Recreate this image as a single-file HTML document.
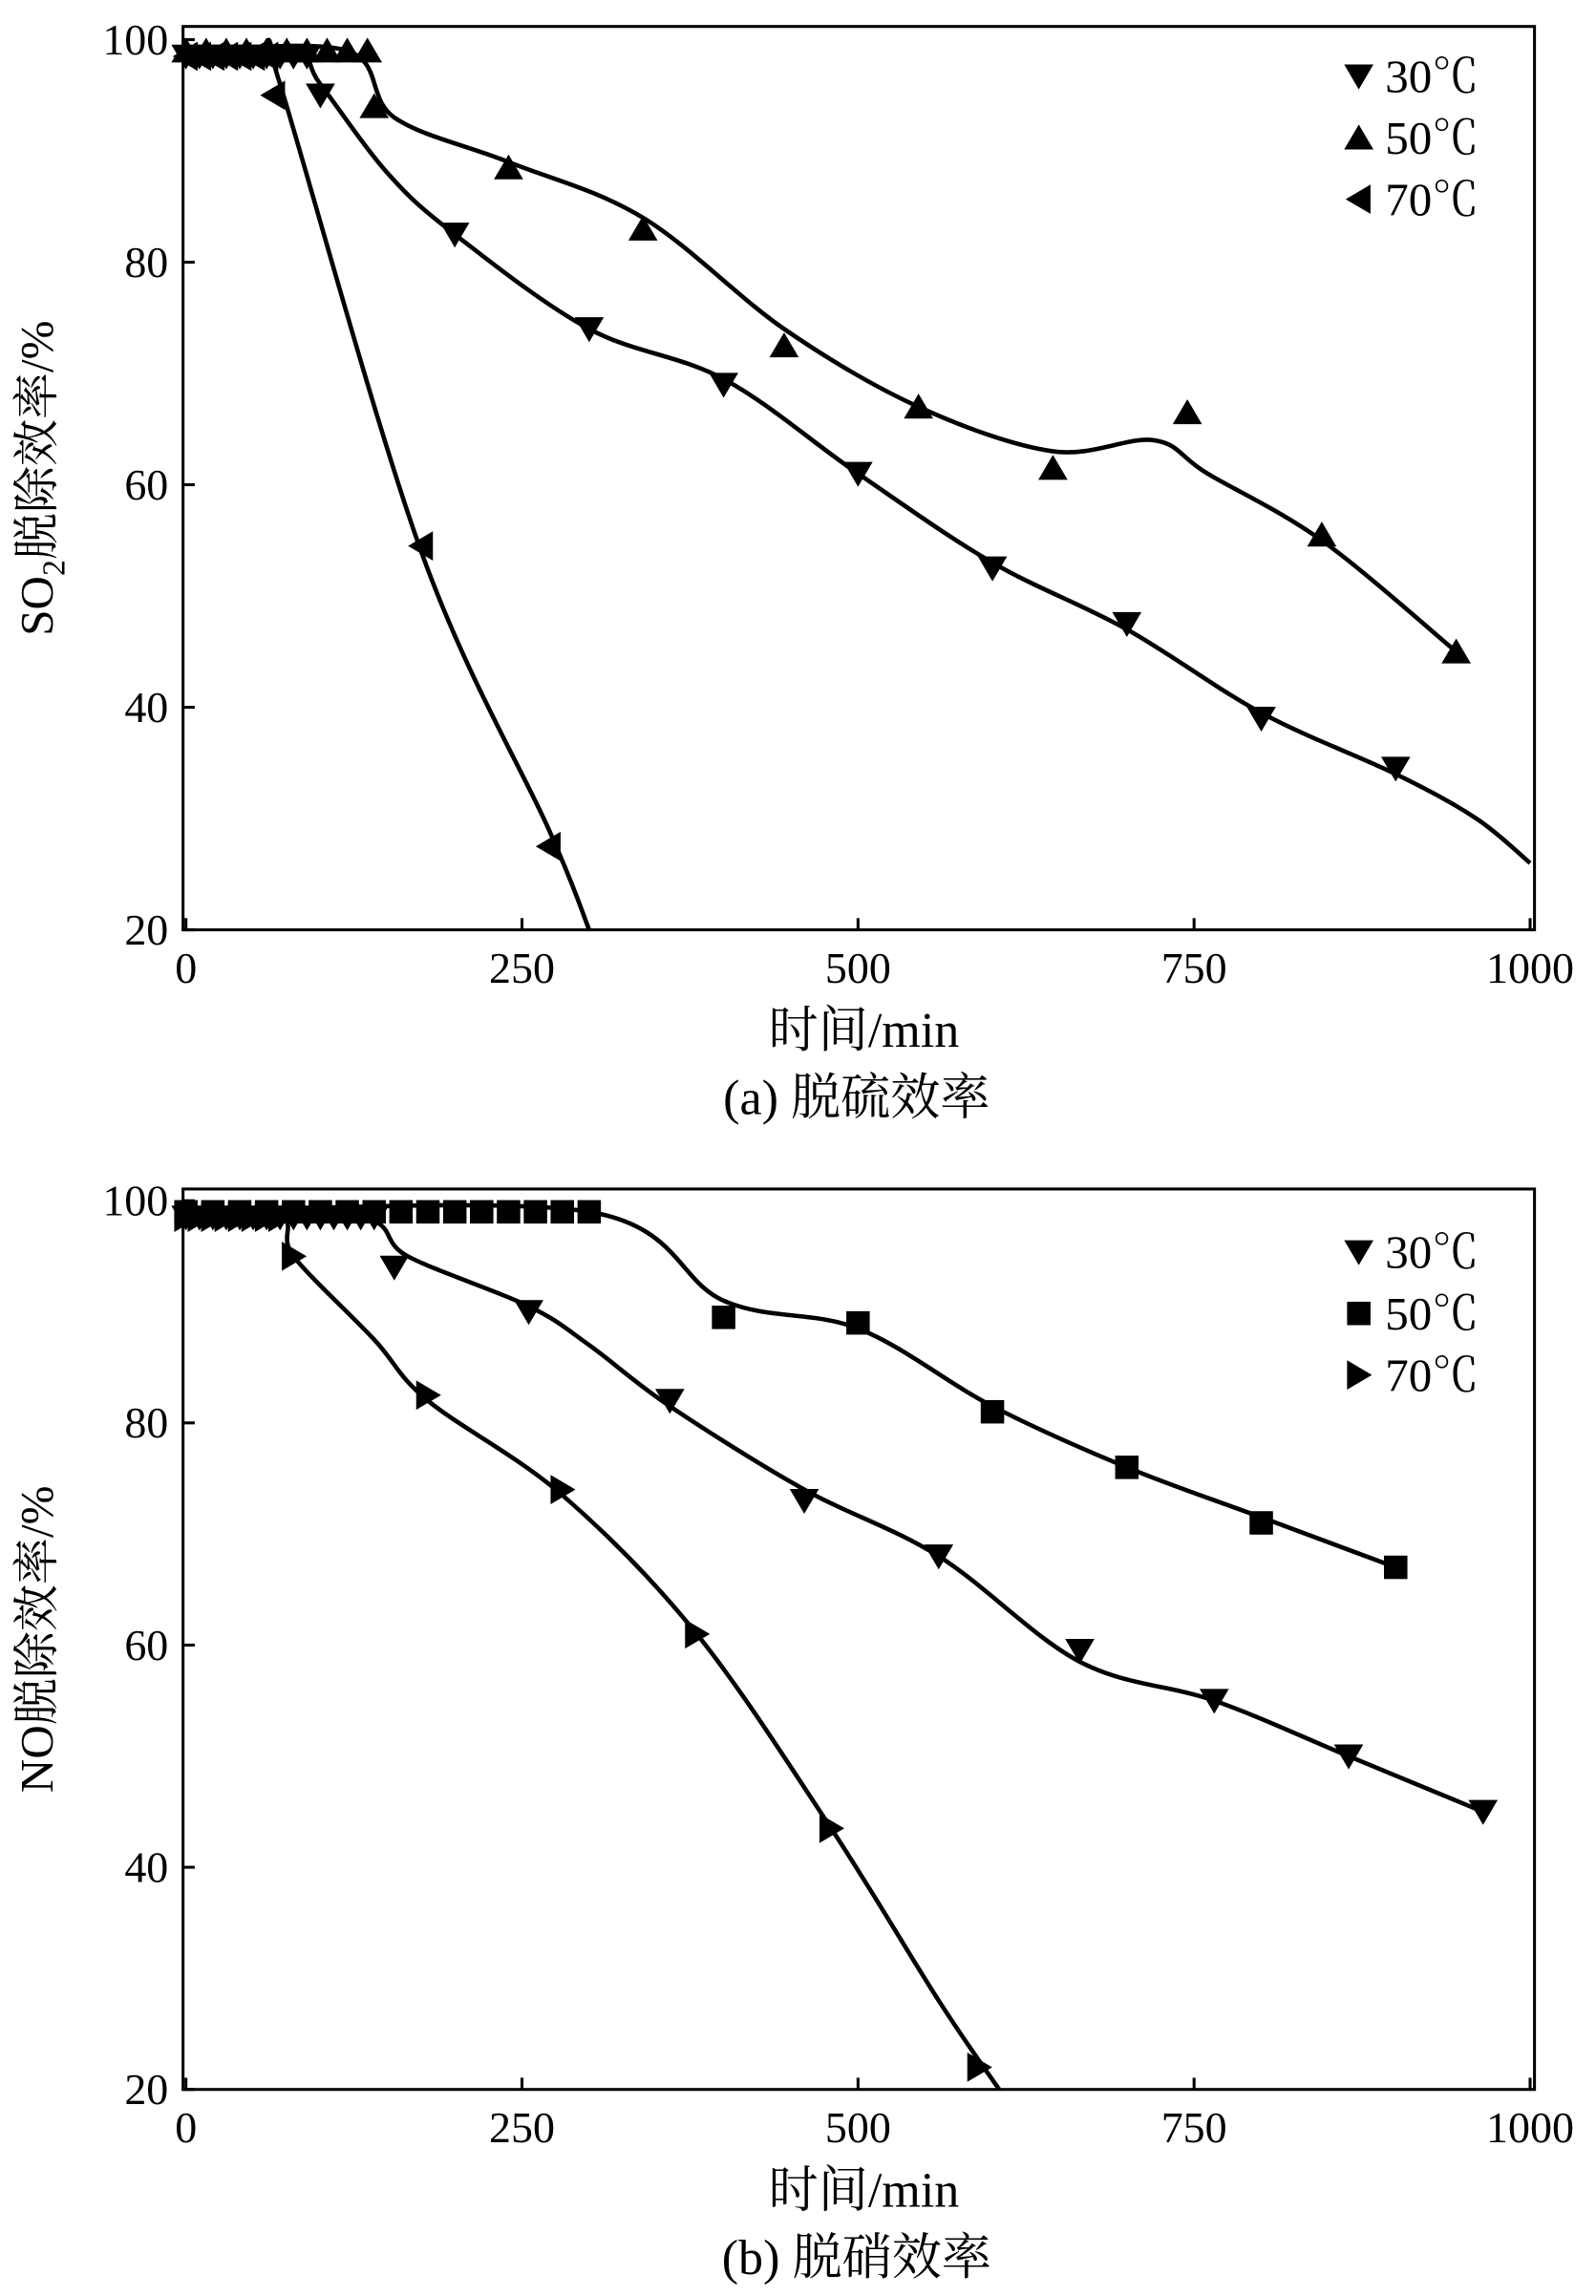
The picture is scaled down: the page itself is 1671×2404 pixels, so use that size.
<!DOCTYPE html>
<html><head><meta charset="utf-8"><style>
html,body{margin:0;padding:0;background:#fff}
svg{display:block}
text{font-family:"Liberation Serif","Noto Serif CJK SC",serif;fill:#000}
</style></head><body>
<svg id="chart" width="1671" height="2404" viewBox="0 0 1090 1568" xmlns="http://www.w3.org/2000/svg"></svg>
<script>
// ---- Panel (a) data ----
const xTicks = [0, 250, 500, 750, 1000];
const yTicks = [20, 40, 60, 80, 100];
const a30x = [0,10,20,30,40,50,60,70,80,90,100,200,300,400,500,600,700,800,900];
const a30y = [98.5,98.5,98.5,98.5,98.5,98.5,98.5,98.5,98.5,98.5,95,82.5,74,69,61,52.5,47.5,39,34.5];
const a50x = [0,15,30,45,60,75,90,105,120,135,140,240,340,445,545,645,745,845,945];
const a50y = [99,99,99,99,99,99,99,99,99,99,94,88.5,83,72.5,67,61.5,66.5,55.5,45];
const a70x = [0,10,20,30,40,50,60,65,175,270];
const a70y = [98.5,98.5,98.5,98.5,98.5,98.5,98.5,95,54.5,27.5];
const a30curveX = [0,80,100,150,200,300,400,500,600,700,800,900,960,1000];
const a30curveY = [99,99,96,88,82.5,74,69.5,61,53,47,39.5,34,30,26];
const a50curveX = [0,120,155,240,340,445,545,645,720,760,845,945];
const a50curveY = [99,99,93,89,84,74,67,63,64,61,55,45];
const a70curveX = [0,60,70,175,270,300];
const a70curveY = [98.5,98.5,96,54,29,20];
// ---- Panel (b) data ----
const b30x = [0,10,20,30,40,50,60,70,80,90,100,110,120,130,140,155,255,360,460,560,665,765,865,965];
const b30y = [98.5,98.5,98.5,98.5,98.5,98.5,98.5,98.5,98.5,98.5,98.5,98.5,98.5,98.5,98.5,94,90,82,73,68,59.5,55,50,45];
const b50x = [0,20,40,60,80,100,120,140,160,180,200,220,240,260,280,300,400,500,600,700,800,900];
const b50y = [99,99,99,99,99,99,99,99,99,99,99,99,99,99,99,99,89.5,89,81,76,71,67];
const b70x = [0,10,20,30,40,50,60,70,80,180,280,380,480,590];
const b70y = [98.5,98.5,98.5,98.5,98.5,98.5,98.5,98.5,95,82.5,74,61,43.5,22];
const b30curveX = [0,130,165,255,300,360,460,560,665,765,865,965];
const b30curveY = [98.5,98.5,95,90.5,87,81.5,74,68,58.5,55,50,45];
const b50curveX = [0,300,400,500,600,700,800,900];
const b50curveY = [99,99,91,88.5,81.5,76,71.5,67];
const b70curveX = [0,70,80,140,180,280,380,480,560,605];
const b70curveY = [98.5,98.5,95,87.5,82,73.5,61,43.5,28,20];

const NS = "http://www.w3.org/2000/svg";
const svg = document.getElementById('chart');
function mk(tag, attrs, parent){ const e=document.createElementNS(NS,tag); for(const k in attrs) e.setAttribute(k,attrs[k]); (parent||svg).appendChild(e); return e; }

function panel(cfg){
  const L=125, R=1048, X0=127, XW=918;
  const xs = v => X0 + v/1000*XW;
  const ys = v => cfg.y20 - (v-20)/80*(cfg.y20-cfg.y100);
  const g = mk('g',{});
  
  
  const frame = mk('rect',{x:L,y:cfg.top,width:R-L,height:cfg.y20-cfg.top,fill:'none',stroke:'#000','stroke-width':2},g);
  
  
  xTicks.forEach(t=>{
    const x=xs(t);
    mk('line',{x1:x,y1:cfg.y20,x2:x,y2:cfg.y20-8,stroke:'#000','stroke-width':2},g);
    const tx=mk('text',{x:x,y:cfg.y20+36,'font-size':30,'text-anchor':'middle'},g);
    tx.textContent=t;
    
    
  });
  yTicks.forEach(t=>{
    const y=ys(t);
    mk('line',{x1:L,y1:y,x2:L+8,y2:y,stroke:'#000','stroke-width':2},g);
    const tx=mk('text',{x:L-10,y:y+10,'font-size':30,'text-anchor':'end'},g);
    tx.textContent=t;
    
    
  });
  const cy=(cfg.top+cfg.y20)/2;
  const yl=mk('text',{x:0,y:0,'font-size':32,'text-anchor':'middle',transform:`translate(36,${cy}) rotate(-90)`},g);
  yl.innerHTML=cfg.ylabel;
  
  
  const xl=mk('text',{x:590,y:cfg.y20+80,'font-size':34,'text-anchor':'middle'},g);
  xl.textContent='时间/min';
  
  
  const cap=mk('text',{x:585,y:cfg.y20+126,'font-size':34,'text-anchor':'middle'},g);
  cap.textContent=cfg.caption;
  
  

  const clip = 'clip-'+cfg.name;
  const cp=mk('clipPath',{id:clip},g);
  mk('rect',{x:L,y:cfg.top,width:R-L,height:cfg.y20-cfg.top},cp);

  cfg.series.forEach(s=>{
    const P=s.cx.map((v,i)=>[xs(v),ys(s.cy[i])]);
    let d=`M${P[0][0]},${P[0][1]}`;
    for(let i=0;i<P.length-1;i++){
      const p0=P[Math.max(0,i-1)],p1=P[i],p2=P[i+1],p3=P[Math.min(P.length-1,i+2)];
      const c1=[p1[0]+(p2[0]-p0[0])/6,p1[1]+(p2[1]-p0[1])/6];
      const c2=[p2[0]-(p3[0]-p1[0])/6,p2[1]-(p3[1]-p1[1])/6];
      d+=` C${c1[0]},${c1[1]} ${c2[0]},${c2[1]} ${p2[0]},${p2[1]}`;
    }
    const path=mk('path',{d:d,fill:'none',stroke:'#000','stroke-width':3,'clip-path':`url(#${clip})`},g);
    
    
    s.px.forEach((v,i)=>{
      const m=marker(s.shape,xs(v),ys(s.py[i]),g);
      
      
    });
  });
  cfg.series.forEach((s,i)=>{
    const ly=cfg.legY+i*42;
    const m=marker(s.shape,928,ly,g);
    
    
    const t=mk('text',{x:946,y:ly+11,'font-size':32},g);
    t.textContent=s.label;
    
    
  });
}
function marker(shape,x,y,g){
  const r=10; let pts;
  if(shape==='square') return mk('rect',{x:x-8,y:y-8,width:16,height:16,fill:'#000'},g);
  if(shape==='down') pts=[[x-r,y-8],[x+r,y-8],[x,y+9]];
  if(shape==='up') pts=[[x-r,y+8],[x+r,y+8],[x,y-9]];
  if(shape==='left') pts=[[x+8,y-r],[x+8,y+r],[x-9,y]];
  if(shape==='right') pts=[[x-8,y-r],[x-8,y+r],[x+9,y]];
  return mk('polygon',{points:pts.map(p=>p.join(',')).join(' '),fill:'#000'},g);
}
panel({name:'panel-a-desulfurization',top:18,y100:27,y20:635,legY:52,
  ylabel:'SO<tspan font-size="22" dy="8">2</tspan><tspan dy="-8">脱除效率/%</tspan>',caption:'(a) 脱硫效率',
  series:[
    {key:'a-30c',label:'30℃',shape:'down',px:a30x,py:a30y,cx:a30curveX,cy:a30curveY},
    {key:'a-50c',label:'50℃',shape:'up',px:a50x,py:a50y,cx:a50curveX,cy:a50curveY},
    {key:'a-70c',label:'70℃',shape:'left',px:a70x,py:a70y,cx:a70curveX,cy:a70curveY}
  ]});
panel({name:'panel-b-denitrification',top:812,y100:820,y20:1427,legY:855,
  ylabel:'NO脱除效率/%',caption:'(b) 脱硝效率',
  series:[
    {key:'b-30c',label:'30℃',shape:'down',px:b30x,py:b30y,cx:b30curveX,cy:b30curveY},
    {key:'b-50c',label:'50℃',shape:'square',px:b50x,py:b50y,cx:b50curveX,cy:b50curveY},
    {key:'b-70c',label:'70℃',shape:'right',px:b70x,py:b70y,cx:b70curveX,cy:b70curveY}
  ]});
</script>
</body></html>
